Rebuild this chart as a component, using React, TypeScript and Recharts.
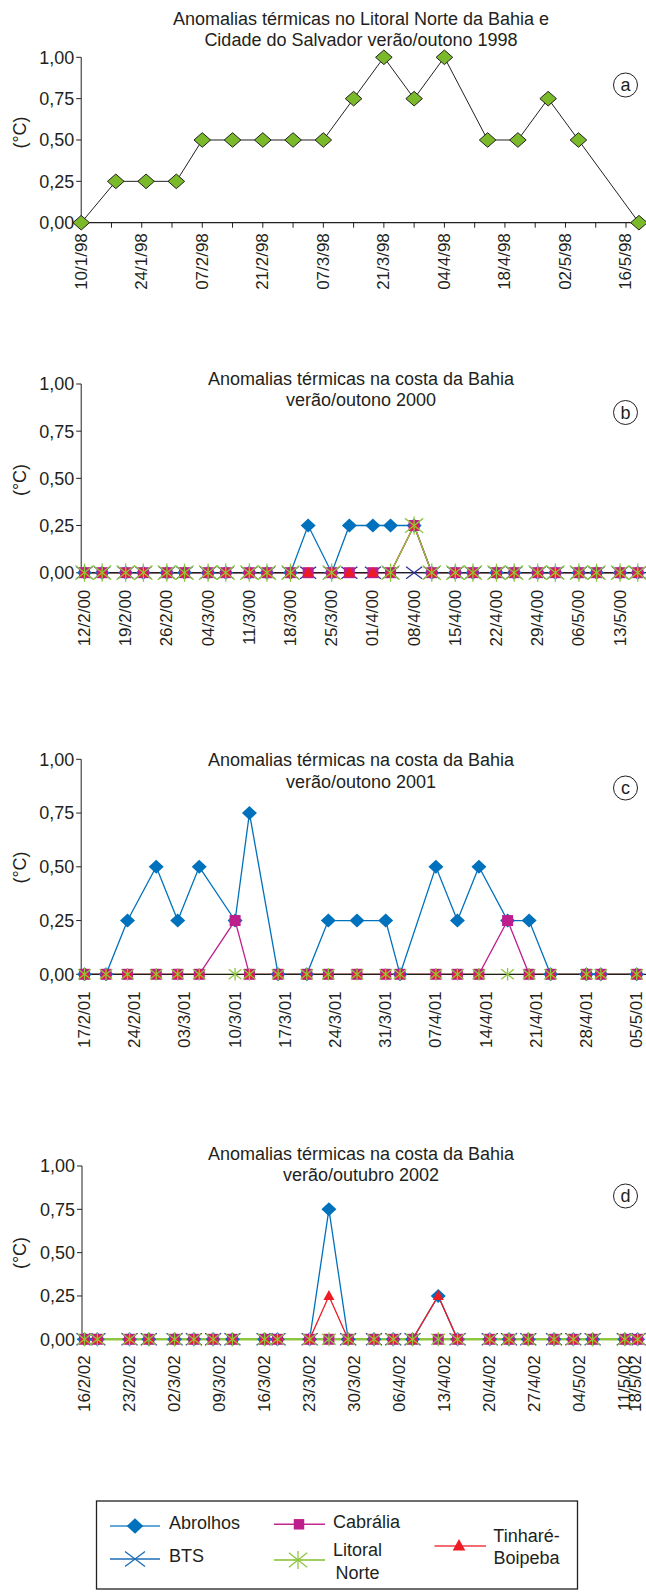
import { LineChart, Line, XAxis, YAxis } from 'recharts';

const INK = '#231F20';
const FONT = '"Liberation Sans", Arial, Helvetica, sans-serif';

// (a) Litoral Norte e Cidade do Salvador, verão/outono 1998
const datesA = ['10/1', '18/1', '25/1', '01/2', '07/2', '14/2', '21/2', '28/2', '07/3', '14/3', '21/3', '28/3', '04/4', '14/4', '21/4', '28/4', '05/5', '19/5'];
const litoralA = [0, 0.25, 0.25, 0.25, 0.5, 0.5, 0.5, 0.5, 0.5, 0.75, 1, 0.75, 1, 0.5, 0.5, 0.75, 0.5, 0];
const labelsA = ['10/1/98', '24/1/98', '07/2/98', '21/2/98', '07/3/98', '21/3/98', '04/4/98', '18/4/98', '02/5/98', '16/5/98'];
const minorA = ['17/1/98', '31/1/98', '14/2/98', '28/2/98', '14/3/98', '28/3/98', '11/4/98', '25/4/98', '09/5/98'];

// (b) costa da Bahia, verão/outono 2000
const datesB = ['12/2', '15/2', '19/2', '22/2', '26/2', '29/2', '04/3', '07/3', '11/3', '14/3', '18/3', '21/3', '25/3', '28/3', '01/4', '04/4', '08/4', '11/4', '15/4', '18/4', '22/4', '25/4', '29/4', '02/5', '06/5', '09/5', '13/5', '16/5'];
const abrolhosB = [0, 0, 0, 0, 0, 0, 0, 0, 0, 0, 0, 0.25, 0, 0.25, 0.25, 0.25, 0.25, 0, 0, 0, 0, 0, 0, 0, 0, 0, 0, 0];
const btsB = [0, 0, 0, 0, 0, 0, 0, 0, 0, 0, 0, 0, 0, 0, 0, 0, 0, 0, 0, 0, 0, 0, 0, 0, 0, 0, 0, 0];
const cabraliaB = [0, 0, 0, 0, 0, 0, 0, 0, 0, 0, 0, 0, 0, 0, 0, 0, 0.25, 0, 0, 0, 0, 0, 0, 0, 0, 0, 0, 0];
const litoralB = [0, 0, 0, 0, 0, 0, 0, 0, 0, 0, 0, null, 0, null, null, 0, 0.25, 0, 0, 0, 0, 0, 0, 0, 0, 0, 0, 0];
const tinhareB = [0, 0, 0, 0, 0, 0, 0, 0, 0, 0, 0, 0, 0, 0, 0, 0, 0.25, 0, 0, 0, 0, 0, 0, 0, 0, 0, 0, 0];
const labelsB = ['12/2/00', '19/2/00', '26/2/00', '04/3/00', '11/3/00', '18/3/00', '25/3/00', '01/4/00', '08/4/00', '15/4/00', '22/4/00', '29/4/00', '06/5/00', '13/5/00'];

// (c) costa da Bahia, verão/outono 2001
const datesC = ['17/2', '20/2', '23/2', '27/2', '02/3', '05/3', '10/3', '12/3', '16/3', '20/3', '23/3', '27/3', '31/3', '02/4', '07/4', '10/4', '13/4', '17/4', '20/4', '23/4', '28/4', '30/4', '05/5'];
const abrolhosC = [0, 0, 0.25, 0.5, 0.25, 0.5, 0.25, 0.75, 0, 0, 0.25, 0.25, 0.25, 0, 0.5, 0.25, 0.5, 0.25, 0.25, 0, 0, 0, 0];
const cabraliaC = [0, 0, 0, 0, 0, 0, 0.25, 0, 0, 0, 0, 0, 0, 0, 0, 0, 0, 0.25, 0, 0, 0, 0, 0];
const litoralC = [0, 0, 0, 0, 0, 0, 0, 0, 0, 0, 0, 0, 0, 0, 0, 0, 0, 0, 0, 0, 0, 0, 0];
const tinhareC = [0, 0, 0, 0, 0, 0, null, 0, 0, 0, 0, 0, 0, 0, 0, 0, 0, null, 0, 0, 0, 0, 0];
const labelsC = ['17/2/01', '24/2/01', '03/3/01', '10/3/01', '17/3/01', '24/3/01', '31/3/01', '07/4/01', '14/4/01', '21/4/01', '28/4/01', '05/5/01'];

// (d) costa da Bahia, verão/outubro 2002
const datesD = ['16/2', '18/2', '23/2', '26/2', '02/3', '05/3', '08/3', '11/3', '16/3', '18/3', '23/3', '26/3', '29/3', '02/4', '05/4', '08/4', '12/4', '15/4', '20/4', '23/4', '26/4', '30/4', '03/5', '06/5', '11/5', '13/5'];
const abrolhosD = [0, 0, 0, 0, 0, 0, 0, 0, 0, 0, 0, 0.75, 0, 0, 0, 0, 0.25, 0, 0, 0, 0, 0, 0, 0, 0, 0];
const btsD = [0, 0, 0, 0, 0, 0, 0, 0, 0, 0, 0, null, 0, 0, 0, 0, null, 0, 0, 0, 0, 0, 0, 0, 0, 0];
const cabraliaD = [0, 0, 0, 0, 0, 0, 0, 0, 0, 0, 0, 0, 0, 0, 0, 0, 0, 0, 0, 0, 0, 0, 0, 0, 0, 0];
const litoralD = [0, 0, 0, 0, 0, 0, 0, 0, 0, 0, 0, 0, 0, 0, 0, 0, 0, 0, 0, 0, 0, 0, 0, 0, 0, 0];
const tinhareD = [0, 0, 0, 0, 0, 0, 0, 0, 0, 0, 0, 0.25, 0, 0, 0, 0, 0.25, 0, 0, 0, 0, 0, 0, 0, 0, 0];
const labelsD = ['16/2/02', '23/2/02', '02/3/02', '09/3/02', '16/3/02', '23/3/02', '30/3/02', '06/4/02', '13/4/02', '20/4/02', '27/4/02', '04/5/02', '11/5/02', '18/5/02'];

const yTicks = [0, 0.25, 0.5, 0.75, 1];

const SERIES: Record<string, { name: string; color: string; marker: string }> = {
  bts: { name: 'BTS', color: '#2E3192', marker: 'cross' },
  abrolhos: { name: 'Abrolhos', color: '#0071BC', marker: 'diamond' },
  cabralia: { name: 'Cabrália', color: '#BE1E8C', marker: 'square' },
  tinhare: { name: 'Tinharé-Boipeba', color: '#ED1C24', marker: 'triangle' },
  litoral: { name: 'Litoral Norte', color: '#8DC63F', marker: 'star' },
  a98: { name: 'Litoral Norte', color: INK, marker: 'diamondA' },
};

const DAY = 86400000;
const dayOf = (d: number, m: number, y: number) => Date.UTC(y, m - 1, d) / DAY;
const fromDM = (dm: string, year: number) => {
  const [d, m] = dm.split('/').map(Number);
  return dayOf(d, m, year);
};
const fromLabel = (s: string) => {
  const [d, m, yy] = s.split('/').map(Number);
  return dayOf(d, m, yy < 50 ? 2000 + yy : 1900 + yy);
};

const pts = (p: number[][]) => p.map((q) => q.join(',')).join(' ');

function marker(kind: string, cx: number, cy: number, key: any, k = 1, color?: string) {
  switch (kind) {
    case 'diamondA':
      return <polygon key={key} points={pts([[cx, cy - 7.3], [cx + 8.3, cy], [cx, cy + 7.3], [cx - 8.3, cy]])} fill="#7AB929" stroke={INK} strokeWidth={1} />;
    case 'diamond':
      return <polygon key={key} points={pts([[cx, cy - 7 * k], [cx + 7.5 * k, cy], [cx, cy + 7 * k], [cx - 7.5 * k, cy]])} fill="#0071BC" />;
    case 'square':
      return <rect key={key} x={cx - 5.5 * k} y={cy - 5.5 * k} width={11 * k} height={11 * k} fill="#BE1E8C" />;
    case 'triangle':
      return <polygon key={key} points={pts([[cx, cy - 6 * k], [cx + 5.5 * k, cy + 4 * k], [cx - 5.5 * k, cy + 4 * k]])} fill="#ED1C24" />;
    case 'star':
      return (
        <g key={key} stroke="#8DC63F" strokeWidth={1.3}>
          <line x1={cx} y1={cy - 7 * k} x2={cx} y2={cy + 7 * k} />
          <line x1={cx - 7 * k} y1={cy - 5.5 * k} x2={cx + 7 * k} y2={cy + 5.5 * k} />
          <line x1={cx - 7 * k} y1={cy + 5.5 * k} x2={cx + 7 * k} y2={cy - 5.5 * k} />
        </g>
      );
    case 'cross':
      return (
        <g key={key} stroke={color || '#2E3192'} strokeWidth={1.3}>
          <line x1={cx - 8 * k} y1={cy - 6 * k} x2={cx + 8 * k} y2={cy + 6 * k} />
          <line x1={cx - 8 * k} y1={cy + 6 * k} x2={cx + 8 * k} y2={cy - 6 * k} />
        </g>
      );
    default:
      return <g key={key} />;
  }
}

type PanelProps = {
  top: number;
  marginTop: number;
  plotH: number;
  yAxisW: number;
  marginRight: number;
  domain: [number, number];
  ticks: number[];
  tickText: Map<number, string>;
  tickLine: boolean;
  labelGap: number;
  rows: any[];
  keys: string[];
  zeroAxis: boolean;
  litoralW: number;
  starScale: number;
};

function Panel(p: PanelProps) {
  const height = p.marginTop + p.plotH + 80;
  const renderTick = (t: any) => {
    const text = p.tickText.get(t.payload.value) || '';
    return (
      <text key={t.index} x={t.x} y={t.y} transform={`rotate(-90 ${t.x} ${t.y})`} textAnchor="end" dominantBaseline="central" fontSize={17} fill={INK}>
        {text}
      </text>
    );
  };
  return (
    <div style={{ position: 'absolute', left: 0, top: p.top }}>
      <LineChart width={646} height={height} data={p.rows} margin={{ top: p.marginTop, right: p.marginRight, left: 0, bottom: 0 }}>
        {p.keys.map((key) => {
          const s = SERIES[key];
          const k = key === 'litoral' ? p.starScale : 1;
          return (
            <Line
              key={key}
              dataKey={key}
              name={s.name}
              stroke={s.color}
              strokeWidth={key === 'litoral' ? p.litoralW : key === 'a98' ? 1 : 1.3}
              isAnimationActive={false}
              activeDot={false}
              dot={(d: any) => (d.cy == null || d.cx == null ? <g key={d.index} /> : marker(s.marker, d.cx, d.cy, d.index, k))}
            />
          );
        })}
        <XAxis
          type="number"
          dataKey="x"
          domain={p.domain}
          ticks={p.ticks}
          interval={0}
          height={80}
          tick={renderTick}
          tickLine={p.tickLine ? { stroke: INK } : false}
          tickSize={5}
          tickMargin={p.labelGap - 5}
          axisLine={p.zeroAxis ? { stroke: INK, strokeWidth: 1.3 } : false}
        />
        <YAxis
          type="number"
          domain={[0, 1]}
          ticks={yTicks}
          interval={0}
          width={p.yAxisW}
          tickFormatter={(v: number) => v.toFixed(2).replace('.', ',')}
          tick={{ fontSize: 18, fill: INK }}
          tickLine={{ stroke: INK }}
          tickSize={5}
          tickMargin={2}
          axisLine={{ stroke: INK }}
        />
      </LineChart>
    </div>
  );
}

const buildRows = (dates: string[], year: number, cols: Record<string, (number | null)[]>) =>
  dates.map((dm, i) => {
    const row: any = { x: fromDM(dm, year) };
    Object.keys(cols).forEach((k) => (row[k] = cols[k][i]));
    return row;
  });

const tickMap = (labels: string[], pos: number[]) => new Map(pos.map((v, i) => [v, labels[i]]));

export default function App() {
  // (a)
  const a0 = fromDM('10/1', 1998);
  const rowsA = buildRows(datesA, 1998, { a98: litoralA });
  const majorA = labelsA.map(fromLabel);
  const ticksA = [...majorA, ...minorA.map(fromLabel)].sort((x, y) => x - y);
  // (b)
  const b0 = fromDM('12/2', 2000);
  const rowsB = buildRows(datesB, 2000, { bts: btsB, abrolhos: abrolhosB, cabralia: cabraliaB, tinhare: tinhareB, litoral: litoralB });
  const ticksB = labelsB.map(fromLabel);
  // (c)
  const c0 = fromDM('17/2', 2001);
  const rowsC = buildRows(datesC, 2001, { abrolhos: abrolhosC, cabralia: cabraliaC, tinhare: tinhareC, litoral: litoralC });
  const ticksC = labelsC.map(fromLabel);
  // (d) last label squeezed in at the axis end
  const d0 = fromDM('16/2', 2002);
  const dMax = d0 + 87.3;
  const rowsD = buildRows(datesD, 2002, { bts: btsD, abrolhos: abrolhosD, cabralia: cabraliaD, tinhare: tinhareD, litoral: litoralD });
  const ticksD = labelsD.map(fromLabel).map((v) => Math.min(v, dMax - 1.7));

  const titles = [
    { lines: ['Anomalias térmicas no Litoral Norte da Bahia e', 'Cidade do Salvador verão/outono 1998'], y: 18.5, letter: 'a', ly: 85, uy: 132.5 },
    { lines: ['Anomalias térmicas na costa da Bahia', 'verão/outono 2000'], y: 378.5, letter: 'b', ly: 412.5, uy: 480 },
    { lines: ['Anomalias térmicas na costa da Bahia', 'verão/outono 2001'], y: 760, letter: 'c', ly: 788, uy: 867.5 },
    { lines: ['Anomalias térmicas na costa da Bahia', 'verão/outubro 2002'], y: 1153.5, letter: 'd', ly: 1196, uy: 1253 },
  ];

  return (
    <div style={{ position: 'absolute', left: 0, top: 0, width: 646, height: 1592, background: '#fff', fontFamily: FONT, overflow: 'hidden' }}>
      <Panel top={0} marginTop={57.3} plotH={165.4} yAxisW={81.2} marginRight={2.7} domain={[a0, a0 + 130]} ticks={ticksA} tickText={tickMap(labelsA, majorA)} tickLine={true} labelGap={10.5} rows={rowsA} keys={['a98']} zeroAxis={true} litoralW={1.3} starScale={1} />
      <Panel top={310} marginTop={74} plotH={188.7} yAxisW={81.2} marginRight={0} domain={[b0 - 0.56, b0 + 95.4]} ticks={ticksB} tickText={tickMap(labelsB, ticksB)} tickLine={false} labelGap={17} rows={rowsB} keys={['bts', 'abrolhos', 'cabralia', 'tinhare', 'litoral']} zeroAxis={true} litoralW={1.3} starScale={1.3} />
      <Panel top={690} marginTop={69.3} plotH={215} yAxisW={81.2} marginRight={0} domain={[c0 - 0.46, c0 + 78.3]} ticks={ticksC} tickText={tickMap(labelsC, ticksC)} tickLine={false} labelGap={17} rows={rowsC} keys={['abrolhos', 'cabralia', 'tinhare', 'litoral']} zeroAxis={true} litoralW={1.3} starScale={0.9} />
      <Panel top={1090} marginTop={76} plotH={173.3} yAxisW={82} marginRight={0} domain={[d0 - 0.39, dMax]} ticks={ticksD} tickText={tickMap(labelsD, ticksD)} tickLine={false} labelGap={16} rows={rowsD} keys={['bts', 'abrolhos', 'cabralia', 'tinhare', 'litoral']} zeroAxis={false} litoralW={2.6} starScale={1} />

      <svg width={646} height={1592} style={{ position: 'absolute', left: 0, top: 0, pointerEvents: 'none' }} fontFamily={FONT} fill={INK}>
        {titles.map((t) => (
          <g key={t.letter}>
            {t.lines.map((line, i) => (
              <text key={i} x={361} y={t.y + i * 21.5} textAnchor="middle" dominantBaseline="central" fontSize={18}>
                {line}
              </text>
            ))}
            <circle cx={625.5} cy={t.ly} r={12} fill="none" stroke={INK} strokeWidth={1} />
            <text x={625.5} y={t.ly} textAnchor="middle" dominantBaseline="central" fontSize={18}>
              {t.letter}
            </text>
            <text x={19.5} y={t.uy} transform={`rotate(-90 19.5 ${t.uy})`} textAnchor="middle" dominantBaseline="central" fontSize={18}>
              (°C)
            </text>
          </g>
        ))}

        {/* legend */}
        <rect x={96.5} y={1501} width={481} height={88} fill="none" stroke={INK} strokeWidth={1.3} />
        <line x1={110} y1={1526} x2={160} y2={1526} stroke="#2E8BCB" strokeWidth={1.5} />
        {marker('diamond', 135, 1526, 'l1', 1.1)}
        <text x={169} y={1523} dominantBaseline="central" fontSize={18}>Abrolhos</text>
        <line x1={110} y1={1559} x2={160} y2={1559} stroke="#1C6DB5" strokeWidth={1.5} />
        {marker('cross', 135, 1559, 'l2', 1.25, '#1C6DB5')}
        <text x={169} y={1556} dominantBaseline="central" fontSize={18}>BTS</text>
        <line x1={274} y1={1524.3} x2={325} y2={1524.3} stroke="#C2278F" strokeWidth={1.5} />
        {marker('square', 299, 1524.3, 'l3', 0.95)}
        <text x={333} y={1521.7} dominantBaseline="central" fontSize={18}>Cabrália</text>
        <line x1={274} y1={1560} x2={325} y2={1560} stroke="#A3CF62" strokeWidth={2} />
        {marker('star', 298, 1560, 'l4', 1.3)}
        <text x={357.5} y={1550} textAnchor="middle" dominantBaseline="central" fontSize={18}>Litoral</text>
        <text x={357.5} y={1572.7} textAnchor="middle" dominantBaseline="central" fontSize={18}>Norte</text>
        <line x1={434.5} y1={1546} x2={486} y2={1546} stroke="#EE3B42" strokeWidth={1.5} />
        {marker('triangle', 459, 1546, 'l5', 1.15)}
        <text x={526.5} y={1536} textAnchor="middle" dominantBaseline="central" fontSize={18}>Tinharé-</text>
        <text x={526.5} y={1557.7} textAnchor="middle" dominantBaseline="central" fontSize={18}>Boipeba</text>
      </svg>
    </div>
  );
}
